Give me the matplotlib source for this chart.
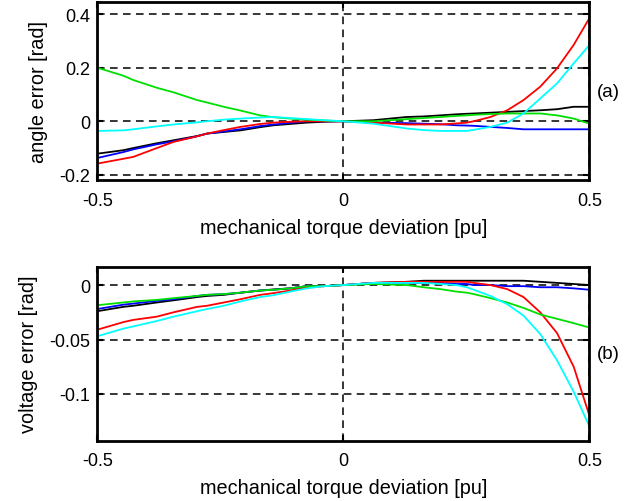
import numpy as np
import matplotlib.pyplot as plt

plt.rcParams['font.family'] = ['Liberation Sans', 'DejaVu Sans']

# torque deviation samples [pu]
x = [-0.5, -0.447, -0.427, -0.379, -0.345, -0.297, -0.277, -0.243, -0.209, -0.169,
     -0.142, -0.108, -0.074, -0.04, 0.0, 0.061, 0.129, 0.163, 0.197, 0.23, 0.251,
     0.265, 0.299, 0.333, 0.366, 0.4, 0.434, 0.468, 0.5]

# (a) angle error [rad]
ang_black = [-0.121, -0.108, -0.100, -0.082, -0.071, -0.055, -0.046, -0.040, -0.034, -0.022,
             -0.015, -0.010, -0.005, -0.002, 0.0, 0.004, 0.016, 0.018, 0.022, 0.026, 0.028,
             0.029, 0.032, 0.035, 0.038, 0.041, 0.045, 0.054, 0.054]
ang_blue = [-0.137, -0.115, -0.105, -0.086, -0.075, -0.056, -0.046, -0.038, -0.030, -0.018,
            -0.012, -0.006, 0.0, 0.0, 0.0, -0.005, -0.007, -0.009, -0.011, -0.015, -0.016,
            -0.017, -0.021, -0.025, -0.030, -0.030, -0.030, -0.030, -0.030]
ang_red = [-0.158, -0.140, -0.133, -0.100, -0.077, -0.056, -0.046, -0.033, -0.021, -0.010,
           -0.005, -0.002, 0.0, 0.0, 0.0, -0.005, -0.012, -0.012, -0.012, -0.008, -0.005,
           0.0, 0.016, 0.041, 0.079, 0.129, 0.197, 0.285, 0.385]
ang_green = [0.200, 0.170, 0.154, 0.125, 0.108, 0.079, 0.070, 0.054, 0.040, 0.022,
             0.015, 0.010, 0.006, 0.003, 0.0, 0.0, 0.008, 0.012, 0.016, 0.020, 0.022,
             0.024, 0.027, 0.029, 0.029, 0.029, 0.022, 0.010, -0.009]
ang_cyan = [-0.036, -0.034, -0.030, -0.019, -0.012, -0.004, 0.0, 0.006, 0.010, 0.014,
            0.016, 0.012, 0.008, 0.004, 0.0, -0.009, -0.027, -0.033, -0.036, -0.036, -0.036,
            -0.032, -0.021, -0.005, 0.029, 0.085, 0.141, 0.216, 0.285]

# (b) voltage error
vol_black = [-0.024, -0.020, -0.019, -0.016, -0.014, -0.011, -0.010, -0.009, -0.007, -0.005,
             -0.004, -0.003, -0.001, -0.001, 0.0, 0.002, 0.003, 0.004, 0.004, 0.004, 0.004,
             0.004, 0.004, 0.004, 0.004, 0.003, 0.002, 0.001, 0.0]
vol_blue = [-0.022, -0.018, -0.017, -0.0145, -0.013, -0.010, -0.009, -0.0083, -0.007, -0.005,
            -0.0043, -0.003, -0.001, -0.001, 0.0, 0.002, 0.002, 0.002, 0.002, 0.001, 0.001,
            0.0, 0.0, -0.001, -0.001, -0.002, -0.002, -0.003, -0.0043]
vol_red = [-0.041, -0.034, -0.032, -0.029, -0.025, -0.020, -0.019, -0.016, -0.013, -0.009,
           -0.0074, -0.005, -0.002, -0.001, 0.0, 0.002, 0.003, 0.003, 0.003, 0.003, 0.003,
           0.002, 0.0, -0.0037, -0.011, -0.025, -0.044, -0.075, -0.120]
vol_green = [-0.0185, -0.016, -0.015, -0.0136, -0.012, -0.010, -0.009, -0.0083, -0.007, -0.005,
             -0.0043, -0.003, -0.001, -0.001, 0.0, 0.001, 0.0, -0.002, -0.0037, -0.006, -0.007,
             -0.0083, -0.012, -0.016, -0.021, -0.027, -0.031, -0.035, -0.039]
vol_cyan = [-0.047, -0.040, -0.038, -0.033, -0.029, -0.024, -0.022, -0.019, -0.015, -0.011,
            -0.0093, -0.006, -0.003, -0.001, 0.0, 0.002, 0.002, 0.002, 0.001, 0.0, -0.002,
            -0.0043, -0.010, -0.0176, -0.028, -0.045, -0.069, -0.098, -0.130]

colors = ['black', 'blue', 'red', '#00e000', 'cyan']


def style_axes(ax, yticks, ylim, ylabel, tag):
    ax.set_xlim(-0.5, 0.5)
    ax.set_ylim(*ylim)
    ax.set_xticks([-0.5, 0, 0.5])
    ax.set_xticklabels(['-0.5', '0', '0.5'])
    ax.set_yticks(yticks)
    ax.set_yticklabels(['0' if t == 0 else f'{t:g}' for t in yticks])
    ax.tick_params(direction='in', top=True, right=True, length=4, width=1.5,
                   labelsize=13)
    ax.tick_params(axis='x', pad=8.2)
    ax.tick_params(axis='y', pad=5)
    ax.grid(True, color='black', linestyle=(0, (5, 3.5)), linewidth=1.1)
    for s in ax.spines.values():
        s.set_linewidth(2)
    ax.set_xlabel('mechanical torque deviation [pu]', fontsize=14.3, labelpad=6.5)
    ax.set_ylabel(ylabel, fontsize=14.3, labelpad=8)
    ax.text(1.015, 0.5, tag, transform=ax.transAxes, fontsize=13.5, va='center', ha='left')


fig = plt.figure(figsize=(6.4, 5.02), dpi=100)
ax1 = fig.add_axes([0.152, 0.639, 0.769, 0.355])
ax2 = fig.add_axes([0.152, 0.120, 0.769, 0.347])

for ys, c in zip([ang_black, ang_blue, ang_red, ang_green, ang_cyan], colors):
    ax1.plot(x, ys, color=c, linewidth=1.3)
for ys, c in zip([vol_black, vol_blue, vol_red, vol_green, vol_cyan], colors):
    ax2.plot(x, ys, color=c, linewidth=1.3)

style_axes(ax1, [-0.2, 0, 0.2, 0.4], (-0.22, 0.445), 'angle error [rad]', '(a)')
style_axes(ax2, [-0.1, -0.05, 0], (-0.143, 0.017), 'voltage error [rad]', '(b)')

fig.savefig('out.png', dpi=100)
